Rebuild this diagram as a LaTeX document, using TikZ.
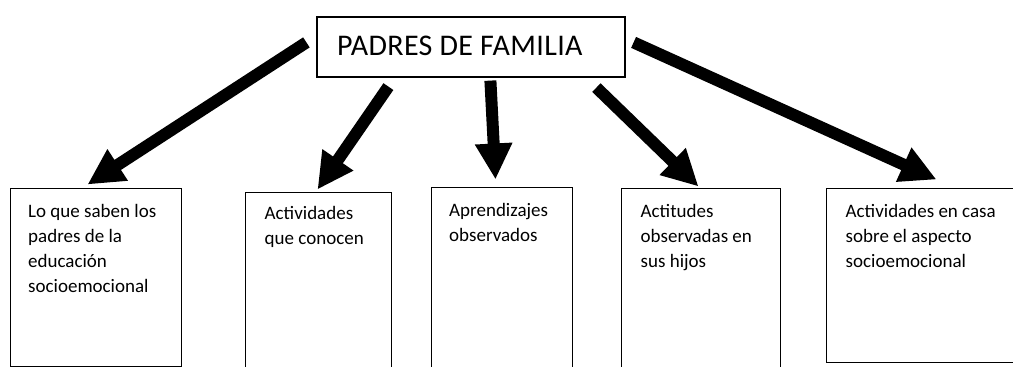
\documentclass[tikz,border=0pt]{standalone}
\usepackage{fontspec}
\setmainfont{Carlito}
\usetikzlibrary{arrows.meta,calc}
\begin{document}
\begin{tikzpicture}[x=1pt,y=-1pt,
  boxnode/.style={draw=black,line width=1pt,inner sep=0pt,rectangle},
  lbl/.style={anchor=base west,inner sep=0pt,font=\fontsize{19}{25.3}\selectfont},
  bigarrow/.style={line width=12pt,-{Triangle[length=36pt,width=35pt]}}]
\useasboundingbox (0,0) rectangle (1013,367);
\clip (0,0) rectangle (1013,367);
\fill[white] (0,0) rectangle (1013,367);
% top node
\node[boxnode,line width=1.2pt,minimum width=308pt,minimum height=60pt] (top) at (471,47) {};
\node[anchor=base west,inner sep=0pt,font=\fontsize{30}{34}\selectfont] (toplbl) at (337,55) {\addfontfeature{LetterSpace=1.2}PADRES DE FAMILIA};
% lower boxes
\node[boxnode,minimum width=171pt,minimum height=178pt] (b1) at (95.5,277) {};
\node[boxnode,minimum width=145.3pt,minimum height=183pt] (b2) at (318.35,283.5) {};
\node[boxnode,minimum width=141.5pt,minimum height=188pt] (b3) at (501.75,281) {};
\node[boxnode,minimum width=159pt,minimum height=187pt] (b4) at (700.5,281.5) {};
\node[boxnode,minimum width=192pt,minimum height=174pt] (b5) at (922,275) {};
% texts
\node[lbl] (t1) at (28,217) {\parbox[t]{160pt}{\raggedright Lo que saben los\\padres de la\\educación\\socioemocional}};
\node[lbl] (t2) at (264.5,219.5) {\parbox[t]{130pt}{\raggedright Actividades\\que conocen}};
\node[lbl] (t3) at (449,216.5) {\parbox[t]{130pt}{\raggedright Aprendizajes\\observados}};
\node[lbl] (t4) at (640.5,217) {\parbox[t]{140pt}{\raggedright Actitudes\\observadas en\\sus hijos}};
\node[lbl] (t5) at (845.5,217) {\parbox[t]{170pt}{\raggedright Actividades en casa\\sobre el aspecto\\socioemocional}};
% arrows
\draw[bigarrow] ($(top.north west)+(-10,26)$) -- ($(b1.north west)+(78,-3)$);
\draw[bigarrow] ($(top.south west)+(72,9)$) -- ($(b2.north west)+(72.3,-2)$);
\draw[bigarrow] ($(top.south west)+(174,3)$) -- ($(b3.north west)+(65,-7)$);
\draw[bigarrow] ($(top.south west)+(280,10)$) -- ($(b4.north west)+(78,-1)$);
\draw[bigarrow] ($(top.north east)+(8,26)$) -- ($(b5.north west)+(111,-8)$);
\end{tikzpicture}
\end{document}
